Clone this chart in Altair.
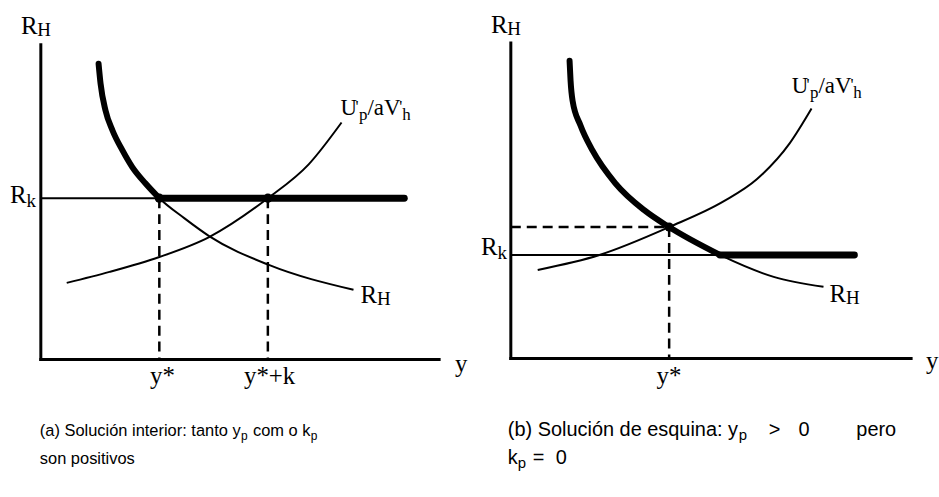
import altair as alt
import pandas as pd

# Pixels per data unit used by both panels (40 px per unit on x and y)
PX = 40.0

# ---------------- panel (a): interior solution ----------------
rh_a_x = [1.45, 1.5, 1.625, 1.8, 2.05, 2.3, 2.625, 2.975, 3.6, 4.225, 5.725, 7.85]
rh_a_y = [7.425, 6.925, 6.25, 5.75, 5.25, 4.825, 4.425, 4.05, 3.55, 3.1, 2.375, 1.75]
u_a_x = [0.65, 1.725, 2.975, 4.225, 5.7, 6.725, 7.55]
u_a_y = [1.925, 2.2, 2.575, 3.075, 4.05, 4.9, 5.95]
rk_a = 4.05          # R_k level
ystar_a = 2.975      # y*
ystark_a = 5.7       # y* + k
rk_end_a = 9.125
xaxis_end_a = 10.0
yaxis_top_a = 7.9

# ---------------- panel (b): corner solution ----------------
rh_b_x = [1.475, 1.5, 1.55, 1.75, 2.05, 2.625, 3.35, 3.975, 5.25, 6.6, 7.85]
rh_b_y = [7.475, 6.975, 6.475, 5.85, 5.225, 4.4, 3.725, 3.3, 2.6, 2.05, 1.8]
u_b_x = [0.675, 2.225, 3.975, 5.35, 6.175, 7.0, 7.55]
u_b_y = [2.225, 2.6, 3.3, 3.95, 4.5, 5.4, 6.275]
rk_b = 2.6
ystar_b = 3.975
rstar_b = 3.3
rk_cross_b = 5.25    # where R_H meets R_k
rk_end_b = 8.625
xaxis_end_b = 10.05
yaxis_top_b = 7.925

SERIF = "Liberation Serif"
SANS = "Liberation Sans"


def text_rows(x, y, parts):
    """Split a label into runs (text, font size, dx px, dy px) placed from an anchor."""
    return [dict(x=x + dx / PX, y=y - dy / PX, t=t, s=s) for t, s, dx, dy in parts]


def panel(dom_x, dom_y, width, axes, rk, rk_end, rk_thick_from, rh_x, rh_y, thick_upto,
          u_x, u_y, dashes, dots, labels, captions):
    sx = alt.Scale(domain=dom_x, nice=False, zero=False)
    sy = alt.Scale(domain=dom_y, nice=False, zero=False)

    def X():
        return alt.X("x:Q", scale=sx, axis=None)

    def Y():
        return alt.Y("y:Q", scale=sy, axis=None)

    seg = dict(x=X(), y=Y(), x2=alt.X2("x2:Q"), y2=alt.Y2("y2:Q"))

    axes_df = pd.DataFrame(axes)
    rk_df = pd.DataFrame([dict(x=0.0, y=rk, x2=rk_end, y2=rk)])
    rk_thick_df = pd.DataFrame([dict(x=rk_thick_from, y=rk, x2=rk_end, y2=rk)])
    dash_df = pd.DataFrame(dashes)
    rh_df = pd.DataFrame(dict(x=rh_x, y=rh_y))
    rh_thick_df = rh_df.iloc[: thick_upto + 1]
    u_df = pd.DataFrame(dict(x=u_x, y=u_y))
    dot_df = pd.DataFrame(dots)
    lab_df = pd.DataFrame(labels)
    cap_df = pd.DataFrame(captions)

    layers = [
        alt.Chart(axes_df).mark_rule(color="black", strokeWidth=3, strokeCap="square").encode(**seg),
        alt.Chart(rk_df).mark_rule(color="black", strokeWidth=2).encode(**seg),
        alt.Chart(rk_thick_df).mark_rule(color="black", strokeWidth=7, strokeCap="round").encode(**seg),
        alt.Chart(dash_df).mark_rule(color="black", strokeWidth=2.5, strokeDash=[10, 6]).encode(**seg),
        alt.Chart(u_df).mark_line(color="black", strokeWidth=2, interpolate="monotone").encode(x=X(), y=Y()),
        alt.Chart(rh_df).mark_line(color="black", strokeWidth=2, interpolate="monotone").encode(x=X(), y=Y()),
        alt.Chart(rh_thick_df).mark_line(color="black", strokeWidth=6, strokeCap="round",
                                         interpolate="monotone").encode(x=X(), y=Y()),
        alt.Chart(dot_df).mark_circle(color="black", opacity=1, size=85).encode(x=X(), y=Y()),
        alt.Chart(lab_df).mark_text(align="left", baseline="alphabetic", font=SERIF, color="black").encode(
            x=X(), y=Y(), text="t:N", size=alt.Size("s:Q", scale=None)),
        alt.Chart(cap_df).mark_text(align="left", baseline="alphabetic", font=SANS, color="black").encode(
            x=X(), y=Y(), text="t:N", size=alt.Size("s:Q", scale=None)),
    ]
    return alt.layer(*layers).properties(width=width, height=497)


U_LABEL = [("U", 23, 0, 0), ("'", 17, 15, -3), ("p", 17, 18.5, 5), ("/aV", 23, 27, 0),
           ("'", 17, 59, -3), ("h", 17, 62, 5)]
R_H = [("R", 25, 0, 0), ("H", 19, 16.5, 2)]
R_K = [("R", 25, 0, 0), ("k", 19, 16.5, 4)]

# ---- panel (a) annotations ----
labels_a = (
    text_rows(-0.5, 8.175, R_H)
    + text_rows(-0.775, 3.925, R_K)
    + text_rows(ystar_a - 0.235, -0.625, [("y*", 25, 0, 0)])
    + text_rows(ystark_a - 0.6, -0.625, [("y*+k", 25, 0, 0)])
    + text_rows(10.4, -0.325, [("y", 25, 0, 0)])
    + text_rows(7.525, 6.15, U_LABEL)
    + text_rows(8.025, 1.425, R_H)
)
captions_a = (
    text_rows(-0.025, -1.925, [("(a) Solución interior: tanto y", 16.5, 0, 0), ("p", 12, 202, 4),
                               ("com o k", 16.5, 214, 0), ("p", 12, 272, 4)])
    + text_rows(-0.025, -2.625, [("son positivos", 16.5, 0, 0)])
)

# ---- panel (b) annotations ----
labels_b = (
    text_rows(-0.5, 8.175, R_H)
    + text_rows(-0.75, 2.6, R_K)
    + text_rows(ystar_b - 0.315, -0.65, [("y*", 25, 0, 0)])
    + text_rows(10.425, -0.275, [("y", 25, 0, 0)])
    + text_rows(7.05, 6.675, U_LABEL)
    + text_rows(8.0, 1.425, R_H)
)
captions_b = (
    text_rows(-0.075, -1.95, [("(b) Solución de esquina: y", 20, 0, 0), ("p", 15, 232, 4),
                              (">", 20, 262, 0), ("0", 20, 292, 0), ("pero", 20, 350, 0)])
    + text_rows(-0.075, -2.65, [("k", 20, 0, 0), ("p", 15, 10, 4), ("=", 20, 25, 0), ("0", 20, 48, 0)])
)

left = panel(
    dom_x=[-1.025, 10.725], dom_y=[-3.425, 9.0], width=470,
    axes=[dict(x=0.0, y=0.0, x2=0.0, y2=yaxis_top_a), dict(x=0.0, y=0.0, x2=xaxis_end_a, y2=0.0)],
    rk=rk_a, rk_end=rk_end_a, rk_thick_from=ystar_a,
    rh_x=rh_a_x, rh_y=rh_a_y, thick_upto=7, u_x=u_a_x, u_y=u_a_y,
    dashes=[dict(x=ystar_a, y=rk_a, x2=ystar_a, y2=0.0), dict(x=ystark_a, y=rk_a, x2=ystark_a, y2=0.0)],
    dots=[dict(x=ystar_a, y=rk_a), dict(x=ystark_a, y=rk_a)],
    labels=labels_a, captions=captions_a,
)

right = panel(
    dom_x=[-1.075, 10.65], dom_y=[-3.45, 8.975], width=469,
    axes=[dict(x=0.0, y=0.0, x2=0.0, y2=yaxis_top_b), dict(x=0.0, y=0.0, x2=xaxis_end_b, y2=0.0)],
    rk=rk_b, rk_end=rk_end_b, rk_thick_from=rk_cross_b,
    rh_x=rh_b_x, rh_y=rh_b_y, thick_upto=8, u_x=u_b_x, u_y=u_b_y,
    dashes=[dict(x=0.0, y=rstar_b, x2=ystar_b, y2=rstar_b), dict(x=ystar_b, y=rstar_b, x2=ystar_b, y2=0.0)],
    dots=[dict(x=ystar_b, y=rstar_b)],
    labels=labels_b, captions=captions_b,
)

chart = (
    alt.hconcat(left, right, spacing=0)
    .properties(padding=0, background="white")
    .configure_view(stroke=None)
)

chart.save("out.html", embed_options={"renderer": "svg", "actions": False})
